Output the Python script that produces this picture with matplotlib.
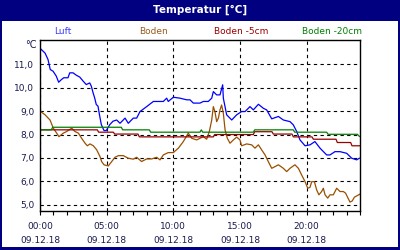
import numpy as np
import matplotlib
matplotlib.use("Agg")
import matplotlib.pyplot as plt
from matplotlib.patches import Rectangle

# hours since 00:00 on 09.12.18, temperature in degC
luft_h = [0.0, 0.38, 0.6, 0.77, 0.98, 1.22, 1.4, 1.6, 1.78, 2.1, 2.23, 2.48, 2.72, 2.98,
          3.23, 3.47, 3.73, 3.85, 3.98, 4.1, 4.22, 4.35, 4.48, 4.6, 4.8, 4.97, 5.23,
          5.48, 5.75, 6.0, 6.38, 6.62, 7.0, 7.25, 7.5, 8.0, 8.5, 9.25, 9.5, 9.62, 10.0,
          10.5, 11.0, 11.25, 11.5, 12.0, 12.25, 12.62, 12.88, 13.0, 13.25, 13.5, 13.7,
          13.75, 14.0, 14.38, 14.75, 15.12, 15.38, 15.75, 16.0, 16.38, 16.75, 17.0,
          17.38, 17.88, 18.25, 18.75, 19.0, 19.25, 19.5, 19.88, 20.25, 20.62, 21.0,
          21.5, 21.75, 22.12, 22.5, 23.0, 23.38, 23.75, 23.95]
luft_t = [11.68, 11.47, 11.2, 10.77, 10.7, 10.49, 10.23, 10.34, 10.42, 10.42, 10.63, 10.63,
          10.53, 10.45, 10.28, 10.13, 10.2, 10.06, 9.78, 9.56, 9.28, 9.21, 8.78, 8.42,
          8.17, 8.17, 8.42, 8.57, 8.62, 8.48, 8.7, 8.48, 8.7, 8.7, 8.98, 9.19, 9.41,
          9.41, 9.55, 9.41, 9.59, 9.55, 9.48, 9.48, 9.34, 9.34, 9.41, 9.41, 9.55, 9.83,
          9.69, 9.69, 10.12, 9.55, 8.84, 8.62, 8.84, 8.98, 8.98, 9.19, 9.05, 9.29, 9.12,
          9.05, 8.67, 8.77, 8.62, 8.55, 8.41, 8.13, 7.77, 7.52, 7.56, 7.7, 7.42, 7.13,
          7.13, 7.27, 7.27, 7.2, 6.99, 6.92, 6.99]

boden_h = [0.0, 0.38, 0.75, 1.0, 1.25, 1.42, 1.75, 2.0, 2.38, 2.62, 2.88, 3.12, 3.38,
           3.55, 3.75, 4.0, 4.25, 4.5, 4.62, 4.8, 5.12, 5.38, 5.62, 5.88, 6.25, 6.62,
           7.0, 7.25, 7.62, 8.0, 8.38, 8.75, 9.0, 9.25, 9.62, 10.0, 10.38, 10.75, 11.12,
           11.38, 11.75, 12.0, 12.25, 12.5, 12.7, 12.88, 13.0, 13.12, 13.25, 13.38,
           13.5, 13.62, 13.75, 13.88, 14.05, 14.25, 14.5, 14.75, 15.0, 15.12, 15.5,
           15.88, 16.12, 16.38, 16.62, 16.88, 17.12, 17.38, 17.62, 17.88, 18.25, 18.5,
           18.75, 19.12, 19.38, 19.62, 19.88, 20.08, 20.25, 20.38, 20.58, 20.75, 20.92,
           21.12, 21.25, 21.38, 21.58, 21.75, 22.0, 22.25, 22.5, 22.75, 22.92, 23.1,
           23.25, 23.42, 23.58, 24.0]
boden_t = [9.0, 8.84, 8.62, 8.27, 8.06, 7.91, 8.06, 8.13, 8.27, 8.13, 8.06, 7.84, 7.63,
           7.52, 7.6, 7.52, 7.35, 7.06, 6.85, 6.71, 6.66, 6.85, 7.03, 7.1, 7.1, 6.99,
           6.95, 7.03, 6.85, 6.96, 6.96, 7.03, 6.92, 7.13, 7.23, 7.23, 7.42, 7.7, 8.06,
           7.84, 7.77, 7.84, 7.91, 7.8, 8.13, 8.62, 9.19, 8.98, 8.55, 8.7, 9.05, 9.26,
           8.91, 8.2, 7.84, 7.63, 7.77, 7.89, 7.77, 7.52, 7.6, 7.56, 7.42, 7.56, 7.35,
           7.13, 6.85, 6.56, 6.63, 6.71, 6.56, 6.42, 6.56, 6.71, 6.56, 6.28, 5.99, 5.71,
           5.75, 5.99, 5.99, 5.64, 5.43, 5.57, 5.71, 5.43, 5.29, 5.43, 5.43, 5.71, 5.57,
           5.57, 5.5, 5.29, 5.12, 5.17, 5.33, 5.46]

b5_h = [0.0, 4.3, 4.4, 5.5, 5.6, 7.35, 7.45, 13.0, 13.1, 16.0, 16.1, 17.4, 17.5, 18.9,
        19.0, 20.4, 20.5, 22.2, 22.3, 23.3, 23.4, 24.0]
b5_t = [8.2, 8.2, 8.1, 8.1, 8.02, 8.02, 7.9, 7.9, 8.0, 8.0, 8.12, 8.12, 8.02, 8.02,
        7.9, 7.9, 7.8, 7.8, 7.66, 7.66, 7.52, 7.52]

b20_h = [0.0, 0.85, 0.95, 6.1, 6.2, 8.2, 8.3, 12.0, 12.1, 12.2, 16.0, 16.1, 19.0, 19.1,
         21.5, 21.6, 23.8, 23.95]
b20_t = [8.2, 8.2, 8.31, 8.31, 8.2, 8.2, 8.1, 8.1, 8.2, 8.1, 8.1, 8.2, 8.2, 8.1, 8.1,
         8.01, 8.01, 7.92]

series = [("Luft", luft_h, luft_t, "#0000ff", "#3b3bff"),
          ("Boden", boden_h, boden_t, "#9a4f00", "#9a5a1e"),
          ("Boden -5cm", b5_h, b5_t, "#990000", "#990000"),
          ("Boden -20cm", b20_h, b20_t, "#008000", "#008000")]

tick_pos = [0, 5, 10, 15, 20]
tick_lbl = ["00:00\n09.12.18", "05:00\n09.12.18", "10:00\n09.12.18",
            "15:00\n09.12.18", "20:00\n09.12.18"]
y_ticks = [5, 6, 7, 8, 9, 10, 11]

navy = "#000080"
fig = plt.figure(figsize=(4, 2.5), dpi=100, facecolor=navy)
fig.patches.append(Rectangle((2 / 400, 3 / 250), 396 / 400, 226 / 250,
                             transform=fig.transFigure, facecolor="white",
                             edgecolor="none", zorder=-10))
fig.text(0.5, 1 - 10 / 250, "Temperatur [°C]", color="white", fontsize=7.5,
         fontweight="bold", ha="center", va="center")

ax = fig.add_axes([40 / 400, 39 / 250, 320 / 400, 171 / 250])
ax.set_zorder(5)
for name, h, t, c, tc in series:
    ax.plot(h, t, color=c, lw=0.9)

ax.set_xlim(0, 24)
ax.set_ylim(4.74, 12.03)
ax.set_xticks(tick_pos)
ax.set_xticklabels(tick_lbl, linespacing=1.75)
ax.set_xticks(np.arange(0, 25, 1), minor=True)
ax.set_yticks(y_ticks)
ax.set_yticklabels([f"{v:.1f}".replace(".", ",") for v in y_ticks])
ax.tick_params(axis="x", which="both", length=3, width=0.8, direction="out",
               labelsize=6.5, labelcolor="#1a1a50", pad=5)
ax.tick_params(axis="y", length=0, labelsize=6.5, labelcolor="#1a1a50", pad=4)
ax.grid(True, which="major", color="black", lw=0.8, linestyle=(0, (3, 3)))
for s in ax.spines.values():
    s.set_linewidth(1.0)

fig.text(37 / 400, 1 - 45 / 250, "°C", fontsize=7, color="#1a1a50", ha="right", va="center")

legend_x = [63, 153, 241, 332]
for (name, h, t, c, tc), lx in zip(series, legend_x):
    fig.text(lx / 400, 1 - 31 / 250, name, color=tc, fontsize=6.5, ha="center", va="center")

fig.savefig("out.png", dpi=100, facecolor=navy)
